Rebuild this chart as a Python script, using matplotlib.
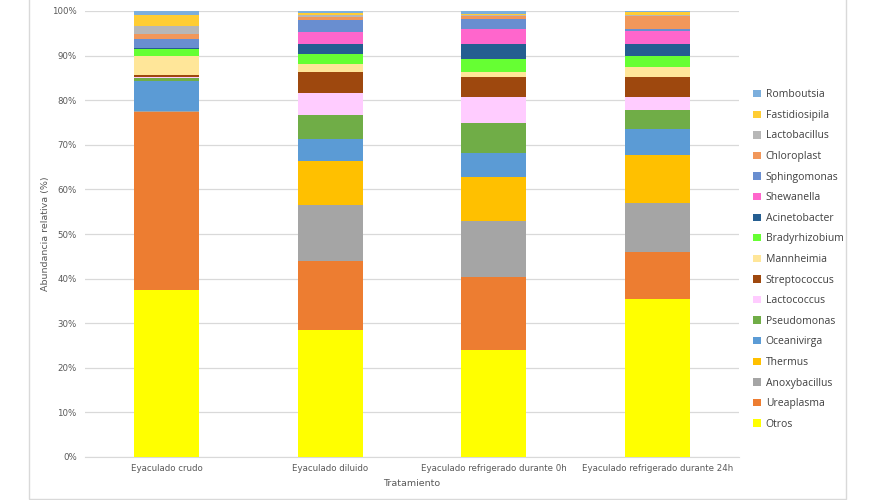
import matplotlib.pyplot as plt
import matplotlib.patches as mpatches
import numpy as np

# Tratamientos
tratamientos = ['Eyaculado crudo', 'Eyaculado diluido',
                'Eyaculado refrigerado durante 0h', 'Eyaculado refrigerado durante 24h']

# Géneros (orden de apilado, de abajo hacia arriba)
generos = ['Otros', 'Ureaplasma', 'Anoxybacillus', 'Thermus', 'Oceanivirga',
           'Pseudomonas', 'Lactococcus', 'Streptococcus', 'Mannheimia',
           'Bradyrhizobium', 'Acinetobacter', 'Shewanella', 'Sphingomonas',
           'Chloroplast', 'Lactobacillus', 'Fastidiosipila', 'Romboutsia']

# Abundancia relativa (%) por tratamiento
otros          = [37.4, 28.5, 24.0, 35.4]
ureaplasma     = [40.0, 15.4, 16.4, 10.6]
anoxybacillus  = [0.1, 12.6, 12.5, 11.0]
thermus        = [0.1, 9.9, 9.9, 10.7]
oceanivirga    = [6.8, 4.9, 5.4, 5.8]
pseudomonas    = [0.6, 5.4, 6.7, 4.3]
lactococcus    = [0.1, 4.9, 5.8, 2.9]
streptococcus  = [0.5, 4.9, 4.4, 4.4]
mannheimia     = [4.3, 1.6, 1.3, 2.3]
bradyrhizobium = [1.5, 2.3, 2.8, 2.6]
acinetobacter  = [0.2, 2.4, 3.5, 2.6]
shewanella     = [0.1, 2.6, 3.2, 3.0]
sphingomonas   = [2.0, 2.6, 2.4, 0.4]
chloroplast    = [1.2, 0.7, 0.5, 2.8]
lactobacillus  = [1.7, 0.5, 0.3, 0.4]
fastidiosipila = [2.4, 0.5, 0.3, 0.5]
romboutsia     = [1.0, 0.4, 0.6, 0.3]

series = [otros, ureaplasma, anoxybacillus, thermus, oceanivirga, pseudomonas,
          lactococcus, streptococcus, mannheimia, bradyrhizobium, acinetobacter,
          shewanella, sphingomonas, chloroplast, lactobacillus, fastidiosipila,
          romboutsia]

colores = ['#FFFF00', '#ED7D31', '#A5A5A5', '#FFC000', '#5B9BD5', '#70AD47',
           '#FFCCFF', '#9E480E', '#FFE699', '#66FF33', '#255E91', '#FF66CC',
           '#698ED0', '#F1975A', '#B7B7B7', '#FFCD33', '#7CAFDD']

datos = np.array(series, dtype=float)
datos = datos / datos.sum(axis=0) * 100

plt.rcParams['font.family'] = ['Liberation Sans Narrow', 'DejaVu Sans']

fig = plt.figure(figsize=(8.75, 5), dpi=100)
ax = fig.add_axes([85/875, 43/500, 654/875, 446/500])

x = np.arange(len(tratamientos))
base = np.zeros(len(tratamientos))
barras = []
for nombre, valores, color in zip(generos, datos, colores):
    b = ax.bar(x, valores, 0.4, bottom=base, color=color, label=nombre, zorder=3)
    barras.append(b)
    base += valores

ax.set_xlim(-0.5, 3.5)
ax.set_ylim(0, 100)
ax.set_yticks(np.arange(0, 101, 10))
ax.set_yticklabels([f'{v}%' for v in range(0, 101, 10)])
ax.set_xticks(x)
ax.set_xticklabels(tratamientos)
ax.tick_params(axis='both', length=0, labelsize=6.2, colors='#595959')
ax.tick_params(axis='y', pad=6)
ax.tick_params(axis='x', pad=5)
ax.grid(axis='y', color='#D9D9D9', linewidth=0.9, zorder=0)
for s in ['top', 'right', 'left']:
    ax.spines[s].set_visible(False)
ax.spines['bottom'].set_color('#D9D9D9')

ax.set_ylabel('Abundancia relativa (%)', fontsize=6.8, color='#595959')
ax.yaxis.set_label_coords(-0.054, 0.5)
ax.set_xlabel('Tratamiento', fontsize=6.8, color='#595959', labelpad=4)

leg = ax.legend(barras[::-1], generos[::-1], loc='center left',
                bbox_to_anchor=(744/875, 240.5/500), bbox_transform=fig.transFigure,
                frameon=False, handlelength=0.7, handleheight=0.7,
                handletextpad=0.5, labelspacing=0.92,
                prop={'family': ['Open Sans', 'DejaVu Sans'], 'size': 7.5})
for t in leg.get_texts():
    t.set_color('#404040')

# borde del gráfico
fig.patches.append(mpatches.Rectangle((29/875, 1/500), 817/875, 1.01, transform=fig.transFigure,
                                      fill=False, edgecolor='#D9D9D9', linewidth=1))

fig.savefig('out.png', dpi=100)
